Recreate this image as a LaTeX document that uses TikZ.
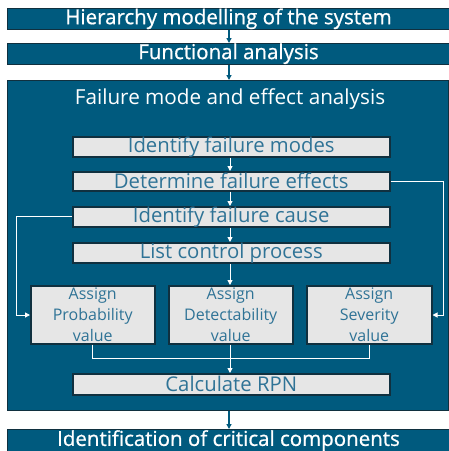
\documentclass[tikz,border=0pt]{standalone}
\usepackage{fontspec}
\setmainfont{Open Sans}
\newfontfamily\barfont[FakeBold=0.8]{Open Sans}
\usetikzlibrary{arrows.meta}
\definecolor{mainblue}{HTML}{005A7E}
\definecolor{edgedark}{HTML}{10303F}
\definecolor{boxgray}{HTML}{E6E6E6}
\definecolor{txtblue}{HTML}{2F7396}
\tikzset{
  bar/.style={draw=edgedark, line width=1pt, fill=mainblue, text=white, inner sep=0pt},
  bigtext/.style={font=\barfont\fontsize{20.5}{20.5}\selectfont},
  graybox/.style={draw=edgedark, line width=1.5pt, fill=boxgray, text=txtblue, inner sep=0pt},
  midtext/.style={font=\fontsize{20.3}{20.3}\selectfont},
  smalltext/.style={font=\fontsize{16}{21}\selectfont, align=center},
  flowa/.style={draw=mainblue, line width=1.2pt, -{Triangle[length=5pt,width=5pt]}},
  flowb/.style={draw=white, line width=1pt, -{Triangle[length=5pt,width=5pt]}},
  flowc/.style={draw=white, line width=1pt},
}
\begin{document}
\begin{tikzpicture}[x=1pt,y=-1pt]
\useasboundingbox[fill=white] (0,0) rectangle (449,451);
% outer bars
\node[bar, bigtext, minimum width=442pt, minimum height=19pt, anchor=north west] (hier) at (7,8) {Hierarchy modelling of the system};
\node[bar, bigtext, minimum width=442pt, minimum height=20pt, anchor=north west] (func) at (7,43) {Functional analysis};
\node[bar, minimum width=441pt, minimum height=330pt, anchor=north west] (fmea) at (7,80) {};
\node[text=white, font=\fontsize{20.7}{20.7}\selectfont] (fmeat) at (230,99) {Failure mode and effect analysis};
\node[bar, bigtext, minimum width=442pt, minimum height=22pt, anchor=north west] (crit) at (7,429) {Identification of critical components};
% inner boxes
\node[graybox, midtext, minimum width=317pt, minimum height=19pt, anchor=north west] (modes) at (72,136) {Identify failure modes};
\node[graybox, midtext, minimum width=317pt, minimum height=19pt, anchor=north west] (effects) at (72,171) {Determine failure effects};
\node[graybox, midtext, minimum width=317pt, minimum height=19pt, anchor=north west] (cause) at (72,206) {Identify failure cause};
\node[graybox, midtext, minimum width=317pt, minimum height=20pt, anchor=north west] (ctrl) at (72,242) {List control process};
\node[graybox, smalltext, minimum width=124pt, minimum height=58pt, anchor=north west] (prob) at (30,285) {Assign\\Probability\\value};
\node[graybox, smalltext, minimum width=124pt, minimum height=58pt, anchor=north west] (det) at (168,285) {Assign\\Detectability\\value};
\node[graybox, smalltext, minimum width=125pt, minimum height=58pt, anchor=north west] (sev) at (306,285) {Assign\\Severity\\value};
\node[graybox, midtext, minimum width=317pt, minimum height=21pt, anchor=north west] (rpn) at (72,373) {Calculate RPN};
% outer arrows
\draw[flowa] (hier.south -| 229,0) -- (func.north -| 229,0);
\draw[flowa] (func.south -| 229,0) -- (fmea.north -| 229,0);
\draw[flowa] (fmea.south -| 229,0) -- (crit.north -| 229,0);
% inner arrows
\draw[flowb] (modes.south -| 230,0) -- (effects.north -| 230,0);
\draw[flowb] (effects.south -| 230,0) -- (cause.north -| 230,0);
\draw[flowb] (cause.south -| 230,0) -- (ctrl.north -| 230,0);
\draw[flowb] (ctrl.south -| 230,0) -- (det.north -| 230,0);
\coordinate (rc) at (443,315);
\coordinate (lc) at (16,315);
\draw[flowb] (effects.east) -| (rc) -- (sev.east |- rc);
\draw[flowb] (cause.west) -| (lc) -- (prob.west |- lc);
\coordinate (mj) at (230,358);
\draw[flowc] (prob.south -| 92,0) |- (mj);
\draw[flowc] (sev.south -| 369,0) |- (mj);
\draw[flowb] (det.south -| 230,0) -- (rpn.north -| 230,0);
\end{tikzpicture}
\end{document}
